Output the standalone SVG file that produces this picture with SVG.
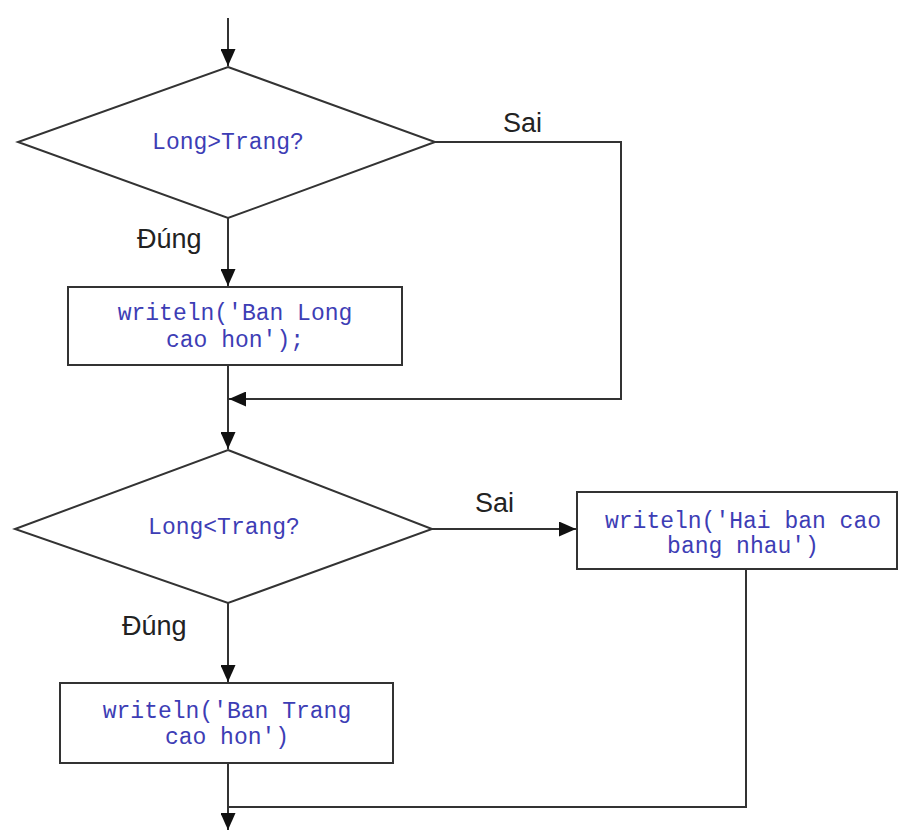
<svg xmlns="http://www.w3.org/2000/svg" width="899" height="830" viewBox="0 0 899 830">
  <style>
    .shape { fill: #ffffff; stroke: #333333; stroke-width: 2; }
    .edge { fill: none; stroke: #333333; stroke-width: 2; }
    .code { font-family: "Liberation Mono", "Courier New", monospace; font-size: 23px; fill: #3d3db5; text-anchor: middle; }
    .label { font-family: "Liberation Sans", Arial, sans-serif; font-size: 27px; fill: #222222; }
  </style>
  <defs>
    <marker id="arrow" viewBox="0 0 17 15" refX="17" refY="7.5" markerWidth="17" markerHeight="15" markerUnits="userSpaceOnUse" orient="auto">
      <path d="M0,0 L17,7.5 L0,15 z" fill="#111111"/>
    </marker>
  </defs>
  <rect width="899" height="830" fill="#ffffff"/>

  <g id="connectors">
    <path class="edge" d="M228,18 L228,66" marker-end="url(#arrow)"/>
    <path class="edge" d="M228,218 L228,286" marker-end="url(#arrow)"/>
    <path class="edge" d="M435,142 L621,142 L621,399 L229,399" marker-end="url(#arrow)"/>
    <path class="edge" d="M228,365 L228,449" marker-end="url(#arrow)"/>
    <path class="edge" d="M432,529 L576,529" marker-end="url(#arrow)"/>
    <path class="edge" d="M228,603 L228,682" marker-end="url(#arrow)"/>
    <path class="edge" d="M746,569 L746,807 L228,807"/>
    <path class="edge" d="M228,763 L228,830" marker-end="url(#arrow)"/>
    <text class="label" x="503" y="132">Sai</text>
    <text class="label" x="137" y="248">Đúng</text>
    <text class="label" x="475" y="512">Sai</text>
    <text class="label" x="122" y="635">Đúng</text>
  </g>

  <g id="cond1">
    <polygon class="shape" points="228,67 435,142 228,218 18,142"/>
    <text class="code" x="228" y="149">Long&gt;Trang?</text>
  </g>

  <g id="print-long">
    <rect class="shape" x="68" y="287" width="334" height="78"/>
    <text class="code" x="235" y="320">writeln('Ban Long</text>
    <text class="code" x="235" y="347">cao hon');</text>
  </g>

  <g id="cond2">
    <polygon class="shape" points="228,450 432,529 228,603 15,529"/>
    <text class="code" x="224" y="534">Long&lt;Trang?</text>
  </g>

  <g id="print-equal">
    <rect class="shape" x="577" y="492" width="320" height="77"/>
    <text class="code" x="743" y="528">writeln('Hai ban cao</text>
    <text class="code" x="743" y="553">bang nhau')</text>
  </g>

  <g id="print-trang">
    <rect class="shape" x="60" y="683" width="333" height="80"/>
    <text class="code" x="227" y="718">writeln('Ban Trang</text>
    <text class="code" x="227" y="744">cao hon')</text>
  </g>
</svg>
